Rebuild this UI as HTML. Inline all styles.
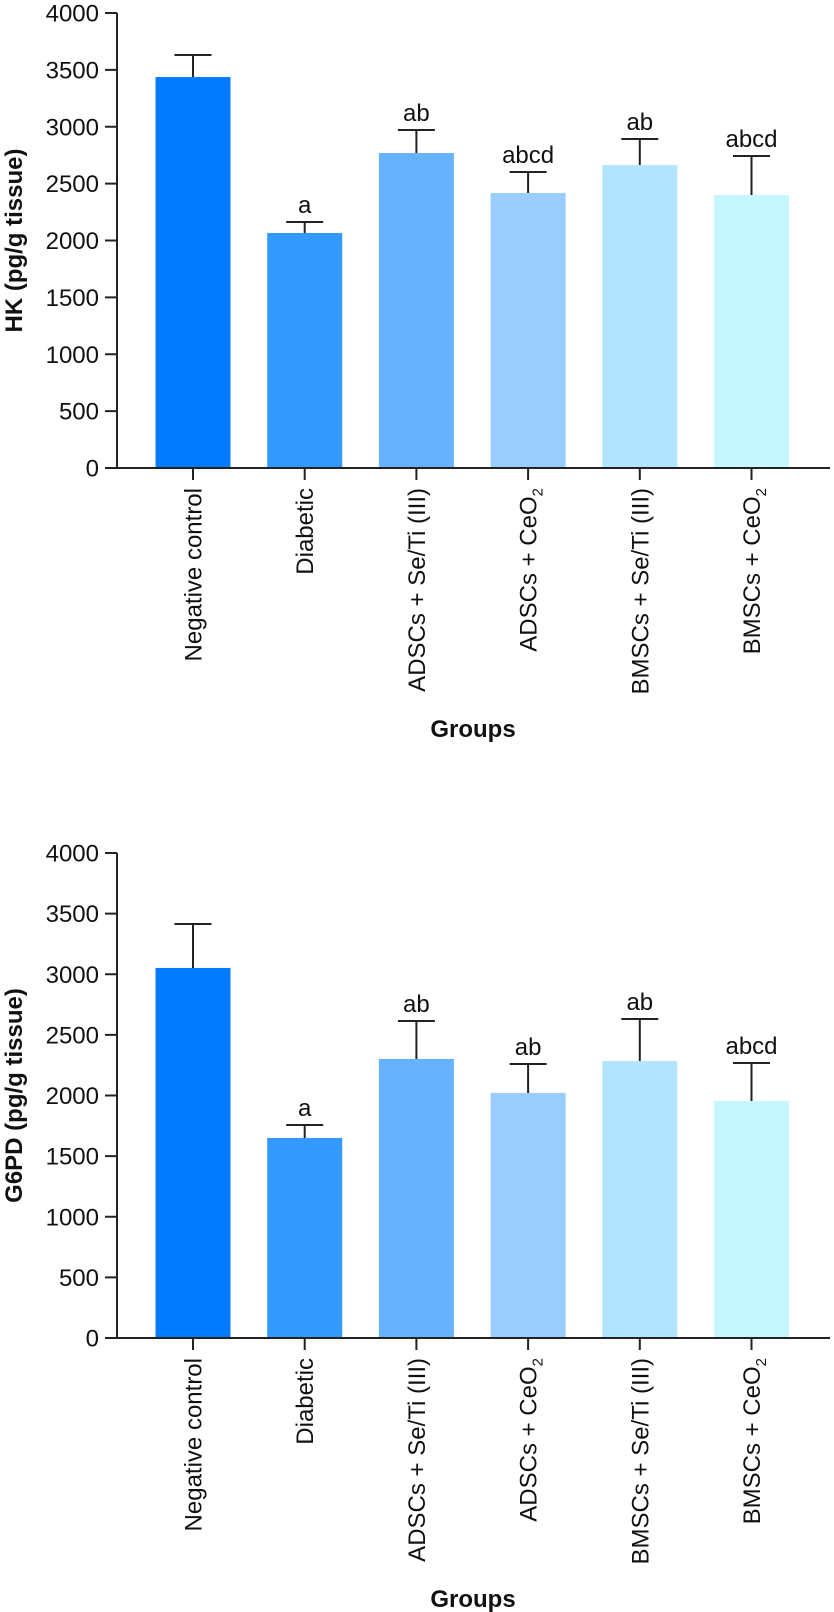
<!DOCTYPE html>
<html><head><meta charset="utf-8">
<style>
html,body{margin:0;padding:0;background:#fff;}
svg{display:block;font-family:"Liberation Sans",Arial,sans-serif;}
</style></head>
<body>
<svg id="chart" width="834" height="1612" viewBox="0 0 834 1612" xmlns="http://www.w3.org/2000/svg"></svg>
<script>
const categories = ["Negative control","Diabetic","ADSCs + Se/Ti (III)","ADSCs + CeO","BMSCs + Se/Ti (III)","BMSCs + CeO"];
const categorySubscripts = ["","","","2","","2"];
const barColors = ["#007BFF","#3399FF","#66B2FF","#99CCFF","#B3E5FF","#C6F7FF"];
const yTicks = [0,500,1000,1500,2000,2500,3000,3500,4000];
const hkValues = [3437,2066,2769,2418,2664,2400];
const hkErrors = [194,97,202,184,228,343];
const hkLetters = ["","a","ab","abcd","ab","abcd"];
const g6pdValues = [3052,1650,2301,2021,2285,1955];
const g6pdErrors = [362,107,313,239,346,313];
const g6pdLetters = ["","a","ab","ab","ab","abcd"];

const NS = "http://www.w3.org/2000/svg";
const svg = document.getElementById("chart");
function mk(tag, attrs, parent){
  const e = document.createElementNS(NS, tag);
  for (const k in attrs) e.setAttribute(k, attrs[k]);
  (parent||svg).appendChild(e);
  return e;
}

function drawChart(prefix, title, y0, y4000, values, errors, letters, groupsY){
  const g = mk("g", {});
  
  
  const axisX = 117, axisEnd = 830;
  const yScale = v => y0 - (y0 - y4000) * v / 4000;
  const xCenter = i => 193 + i * 111.7;
  const barW = 75;
  // bars
  values.forEach((v, i) => {
    const r = mk("rect", {x: xCenter(i) - barW/2, y: yScale(v), width: barW, height: y0 - yScale(v), fill: barColors[i]}, g);
    
    
    const top = yScale(v + errors[i]);
    const eb = mk("path", {d: `M${xCenter(i)} ${yScale(v)} V${top} M${xCenter(i)-18.5} ${top} H${xCenter(i)+18.5}`, stroke: "#222", "stroke-width": 2, fill: "none"}, g);
    
    
    if (letters[i]) {
      const t = mk("text", {x: xCenter(i), y: top - 9, "text-anchor": "middle", "font-size": 24, fill: "#111"}, g);
      t.textContent = letters[i];
      
      
    }
  });
  // y axis
  const ya = mk("line", {x1: axisX, y1: y4000, x2: axisX, y2: y0, stroke: "#222", "stroke-width": 2}, g);
  
  
  yTicks.forEach(t => {
    const y = yScale(t);
    const tl = mk("line", {x1: 105, y1: y, x2: axisX, y2: y, stroke: "#222", "stroke-width": 2}, g);
    
    
    const tx = mk("text", {x: 99, y: y + 8.5, "text-anchor": "end", "font-size": 24, fill: "#111"}, g);
    tx.textContent = t;
    
    
  });
  // x axis
  const xa = mk("line", {x1: 105, y1: y0, x2: axisEnd, y2: y0, stroke: "#222", "stroke-width": 2}, g);
  
  
  categories.forEach((c, i) => {
    const x = xCenter(i);
    const tl = mk("line", {x1: x, y1: y0, x2: x, y2: y0 + 12, stroke: "#222", "stroke-width": 2}, g);
    
    
    const tx = mk("text", {transform: `translate(${x + 8.5},${y0 + 20}) rotate(-90)`, "text-anchor": "end", "font-size": 24, fill: "#111"}, g);
    
    
    tx.appendChild(document.createTextNode(c));
    if (categorySubscripts[i]) {
      const s = mk("tspan", {"font-size": 15, dy: 6}, tx);
      s.textContent = categorySubscripts[i];
    }
  });
  // titles
  const yt = mk("text", {transform: `translate(22,${(y0 + y4000)/2}) rotate(-90)`, "text-anchor": "middle", "font-size": 24, "font-weight": "bold", fill: "#111"}, g);
  yt.textContent = title;
  
  
  const xt = mk("text", {x: 473, y: groupsY, "text-anchor": "middle", "font-size": 24, "font-weight": "bold", fill: "#111"}, g);
  xt.textContent = "Groups";
  
  
}

drawChart("hk", "HK (pg/g tissue)", 468, 13, hkValues, hkErrors, hkLetters, 737);
drawChart("g6pd", "G6PD (pg/g tissue)", 1338, 853, g6pdValues, g6pdErrors, g6pdLetters, 1607);
</script>
</body></html>
